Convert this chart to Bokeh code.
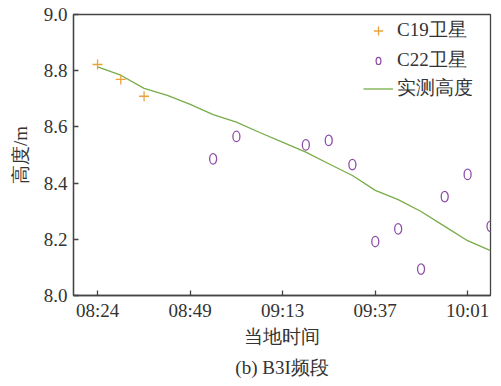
from bokeh.plotting import figure
from bokeh.models import Range1d, FixedTicker, Legend, LegendItem, Title
from bokeh.embed import file_html
from bokeh.resources import INLINE

# time in minutes after midnight
c19_t = [504.0, 510.1, 516.2]
c19_h = [8.822, 8.769, 8.709]

c22_t = [534.3, 540.4, 558.6, 564.6, 570.8, 576.8, 582.8, 588.8, 595.0, 601.0, 607.0]
c22_h = [8.486, 8.566, 8.536, 8.552, 8.466, 8.192, 8.237, 8.094, 8.352, 8.431, 8.246]

meas_t = [504.0, 510.1, 516.2, 522.3, 528.3, 534.3, 540.4, 546.5, 552.6, 558.6,
          564.6, 570.8, 576.8, 582.8, 588.8, 595.0, 601.0, 607.0]
meas_h = [8.814, 8.784, 8.737, 8.712, 8.680, 8.644, 8.617, 8.580, 8.545, 8.510,
          8.469, 8.427, 8.374, 8.341, 8.299, 8.246, 8.195, 8.160]

x_ticks = [504.0, 528.25, 552.5, 576.75, 601.0]
x_labels = ["08:24", "08:49", "09:13", "09:37", "10:01"]
y_ticks = [8.0, 8.2, 8.4, 8.6, 8.8, 9.0]
y_labels = ["8.0", "8.2", "8.4", "8.6", "8.8", "9.0"]

FONT = "Liberation Serif"
TXT = "#333333"
AX = "#444444"

p = figure(width=501, height=386, output_backend="svg", toolbar_location=None,
           x_range=Range1d(497.7, 607.0), y_range=Range1d(8.0, 9.0),
           min_border_left=73, min_border_right=11, min_border_top=14, min_border_bottom=91)
p.background_fill_color = "white"
p.border_fill_color = "white"
p.outline_line_color = AX
p.outline_line_width = 1.3
p.grid.visible = False

line_r = p.line(meas_t, meas_h, line_color="#78AC48", line_width=1.3)
c19_r = p.scatter(c19_t, c19_h, marker="cross", size=10, line_color="#E9A23B", line_width=1.3)
c22_r = p.ellipse(c22_t, c22_h, width=7, height=10.5, width_units="screen", height_units="screen",
                  fill_color=None, line_color="#8E4DA8", line_width=1.3)

for ax in (p.xaxis[0], p.yaxis[0]):
    ax.major_tick_in = 5
    ax.major_tick_out = 0
    ax.minor_tick_in = 0
    ax.minor_tick_out = 0
    ax.axis_line_color = AX
    ax.axis_line_width = 1.3
    ax.major_tick_line_color = AX
    ax.major_tick_line_width = 1.3
    ax.major_label_text_font = FONT
    ax.major_label_text_font_size = "19px"
    ax.major_label_text_color = TXT
    ax.axis_label_text_font = FONT
    ax.axis_label_text_font_size = "19px"
    ax.axis_label_text_font_style = "normal"
    ax.axis_label_text_color = TXT

p.xaxis.ticker = FixedTicker(ticks=x_ticks)
p.xaxis.major_label_overrides = dict(zip(x_ticks, x_labels))
p.xaxis.axis_label = "当地时间"
p.xaxis.major_label_standoff = 4
p.xaxis.axis_label_standoff = 2

p.yaxis.ticker = FixedTicker(ticks=y_ticks)
p.yaxis.major_label_overrides = dict(zip(y_ticks, y_labels))
p.yaxis.axis_label = "高度/m"
p.yaxis.major_label_standoff = 6
p.yaxis.axis_label_standoff = 10

cap = Title(text="(b) B3I频段", align="center", text_font=FONT, text_font_size="19px",
            text_font_style="normal", text_color=TXT, standoff=11)
p.add_layout(cap, "below")


def make_legend(items, glyph_h, loc, spacing=0):
    lg = Legend(items=items, location=loc)
    lg.border_line_color = None
    lg.background_fill_alpha = 0
    lg.label_text_font = FONT
    lg.label_text_font_size = "19px"
    lg.label_text_color = TXT
    lg.glyph_width = 30
    lg.glyph_height = glyph_h
    lg.label_height = 26
    lg.label_standoff = 4
    lg.spacing = spacing
    lg.padding = 0
    lg.margin = 0
    return lg


leg1 = make_legend([LegendItem(label="C19卫星", renderers=[c19_r])], 23, (290, 252))
leg2 = make_legend([LegendItem(label="C22卫星", renderers=[c22_r]),
                    LegendItem(label="实测高度", renderers=[line_r])], 9, (290, 194), spacing=2)
p.add_layout(leg1)
p.add_layout(leg2)

open("out.html", "w").write(file_html(p, INLINE))
